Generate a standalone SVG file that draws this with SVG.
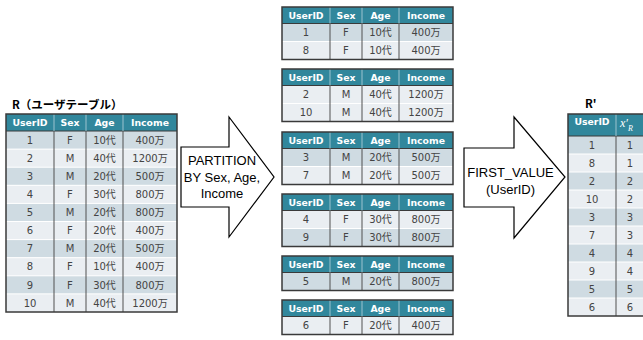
<svg xmlns="http://www.w3.org/2000/svg" width="643" height="340" viewBox="0 0 643 340">
  <style>
    .hd { fill: #31879C; }
    .r1 { fill: #CFDBE2; }
    .r2 { fill: #EAEEF2; }
    .ob { fill: none; stroke: #3A3A3A; stroke-width: 1.5; }
    .vl { stroke: #505050; stroke-width: 1; }
    .hv { stroke: #9CC3CF; stroke-width: 1; }
    .hl { stroke: #FFFFFF; stroke-width: 1; }
    .hb { stroke: #3A3A3A; stroke-width: 1; }
    .ht { font-family: "DejaVu Sans", "Noto Sans CJK JP", sans-serif; font-weight: bold; font-size: 9.3px; fill: #FFFFFF; text-anchor: middle; }
    .bt { font-family: "DejaVu Sans", "Noto Sans CJK JP", sans-serif; font-size: 10px; fill: #444444; text-anchor: middle; }
    .ttl { font-family: "Noto Sans CJK JP", sans-serif; font-weight: bold; font-size: 11.5px; fill: #000000; }
    .arw { fill: #FFFFFF; stroke: #000000; stroke-width: 1.2; stroke-linejoin: miter; }
    .at { font-family: "Liberation Sans", Arial, sans-serif; font-size: 13px; fill: #000000; text-anchor: middle; }
  </style>

  <!-- Source table R -->
  <g id="table-r">
    <text class="ttl" x="12" y="109">R（ユーザテーブル）</text>
    <g transform="translate(6,114)">
      <rect class="hd" x="0" y="0" width="171" height="17"/>
      <rect class="r1" x="0" y="17" width="171" height="18.1"/>
      <rect class="r2" x="0" y="35.1" width="171" height="18.1"/>
      <rect class="r1" x="0" y="53.2" width="171" height="18.1"/>
      <rect class="r2" x="0" y="71.3" width="171" height="18.1"/>
      <rect class="r1" x="0" y="89.4" width="171" height="18.1"/>
      <rect class="r2" x="0" y="107.5" width="171" height="18.1"/>
      <rect class="r1" x="0" y="125.6" width="171" height="18.1"/>
      <rect class="r2" x="0" y="143.7" width="171" height="18.1"/>
      <rect class="r1" x="0" y="161.8" width="171" height="18.1"/>
      <rect class="r2" x="0" y="179.9" width="171" height="18.1"/>
      <path class="hl" d="M0,35.1H171M0,53.2H171M0,71.3H171M0,89.4H171M0,107.5H171M0,125.6H171M0,143.7H171M0,161.8H171M0,179.9H171"/>
      <path class="hb" d="M0,17H171"/>
      <path class="hv" d="M48,0V17M80,0V17M117,0V17"/>
      <path class="vl" d="M48,17V198M80,17V198M117,17V198"/>
      <rect class="ob" x="0" y="0" width="171" height="198"/>
      <text class="ht" x="24" y="11.8">UserID</text>
      <text class="ht" x="64" y="11.8">Sex</text>
      <text class="ht" x="98.5" y="11.8">Age</text>
      <text class="ht" x="144" y="11.8">Income</text>
      <g class="bt">
        <text x="24" y="29.7">1</text><text x="64" y="29.7">F</text><text x="98.5" y="29.7">10代</text><text x="144" y="29.7">400万</text>
        <text x="24" y="47.8">2</text><text x="64" y="47.8">M</text><text x="98.5" y="47.8">40代</text><text x="144" y="47.8">1200万</text>
        <text x="24" y="65.9">3</text><text x="64" y="65.9">M</text><text x="98.5" y="65.9">20代</text><text x="144" y="65.9">500万</text>
        <text x="24" y="84">4</text><text x="64" y="84">F</text><text x="98.5" y="84">30代</text><text x="144" y="84">800万</text>
        <text x="24" y="102.1">5</text><text x="64" y="102.1">M</text><text x="98.5" y="102.1">20代</text><text x="144" y="102.1">800万</text>
        <text x="24" y="120.2">6</text><text x="64" y="120.2">F</text><text x="98.5" y="120.2">20代</text><text x="144" y="120.2">400万</text>
        <text x="24" y="138.3">7</text><text x="64" y="138.3">M</text><text x="98.5" y="138.3">20代</text><text x="144" y="138.3">500万</text>
        <text x="24" y="156.4">8</text><text x="64" y="156.4">F</text><text x="98.5" y="156.4">10代</text><text x="144" y="156.4">400万</text>
        <text x="24" y="174.5">9</text><text x="64" y="174.5">F</text><text x="98.5" y="174.5">30代</text><text x="144" y="174.5">800万</text>
        <text x="24" y="192.6">10</text><text x="64" y="192.6">M</text><text x="98.5" y="192.6">40代</text><text x="144" y="192.6">1200万</text>
      </g>
    </g>
  </g>

  <!-- Partitions -->
  <g id="partition-1" transform="translate(282,7)">
    <rect class="hd" x="0" y="0" width="171" height="16.5"/>
    <rect class="r1" x="0" y="16.5" width="171" height="18"/>
    <rect class="r2" x="0" y="34.5" width="171" height="18"/>
    <path class="hl" d="M0,34.5H171"/>
    <path class="hb" d="M0,16.5H171"/>
    <path class="hv" d="M48,0V16.5M80,0V16.5M117,0V16.5"/>
    <path class="vl" d="M48,16.5V52.5M80,16.5V52.5M117,16.5V52.5"/>
    <rect class="ob" x="0" y="0" width="171" height="52.5"/>
    <text class="ht" x="24" y="11.7">UserID</text><text class="ht" x="64" y="11.7">Sex</text><text class="ht" x="98.5" y="11.7">Age</text><text class="ht" x="144" y="11.7">Income</text>
    <g class="bt">
      <text x="24" y="29.2">1</text><text x="64" y="29.2">F</text><text x="98.5" y="29.2">10代</text><text x="144" y="29.2">400万</text>
      <text x="24" y="47.2">8</text><text x="64" y="47.2">F</text><text x="98.5" y="47.2">10代</text><text x="144" y="47.2">400万</text>
    </g>
  </g>

  <g id="partition-2" transform="translate(282,69)">
    <rect class="hd" x="0" y="0" width="171" height="16.5"/>
    <rect class="r2" x="0" y="16.5" width="171" height="18"/>
    <rect class="r2" x="0" y="34.5" width="171" height="18"/>
    <path class="hl" d="M0,34.5H171"/>
    <path class="hb" d="M0,16.5H171"/>
    <path class="hv" d="M48,0V16.5M80,0V16.5M117,0V16.5"/>
    <path class="vl" d="M48,16.5V52.5M80,16.5V52.5M117,16.5V52.5"/>
    <rect class="ob" x="0" y="0" width="171" height="52.5"/>
    <text class="ht" x="24" y="11.7">UserID</text><text class="ht" x="64" y="11.7">Sex</text><text class="ht" x="98.5" y="11.7">Age</text><text class="ht" x="144" y="11.7">Income</text>
    <g class="bt">
      <text x="24" y="29.2">2</text><text x="64" y="29.2">M</text><text x="98.5" y="29.2">40代</text><text x="144" y="29.2">1200万</text>
      <text x="24" y="47.2">10</text><text x="64" y="47.2">M</text><text x="98.5" y="47.2">40代</text><text x="144" y="47.2">1200万</text>
    </g>
  </g>

  <g id="partition-3" transform="translate(282,132)">
    <rect class="hd" x="0" y="0" width="171" height="16.5"/>
    <rect class="r1" x="0" y="16.5" width="171" height="18"/>
    <rect class="r2" x="0" y="34.5" width="171" height="18"/>
    <path class="hl" d="M0,34.5H171"/>
    <path class="hb" d="M0,16.5H171"/>
    <path class="hv" d="M48,0V16.5M80,0V16.5M117,0V16.5"/>
    <path class="vl" d="M48,16.5V52.5M80,16.5V52.5M117,16.5V52.5"/>
    <rect class="ob" x="0" y="0" width="171" height="52.5"/>
    <text class="ht" x="24" y="11.7">UserID</text><text class="ht" x="64" y="11.7">Sex</text><text class="ht" x="98.5" y="11.7">Age</text><text class="ht" x="144" y="11.7">Income</text>
    <g class="bt">
      <text x="24" y="29.2">3</text><text x="64" y="29.2">M</text><text x="98.5" y="29.2">20代</text><text x="144" y="29.2">500万</text>
      <text x="24" y="47.2">7</text><text x="64" y="47.2">M</text><text x="98.5" y="47.2">20代</text><text x="144" y="47.2">500万</text>
    </g>
  </g>

  <g id="partition-4" transform="translate(282,194)">
    <rect class="hd" x="0" y="0" width="171" height="16.5"/>
    <rect class="r2" x="0" y="16.5" width="171" height="18"/>
    <rect class="r1" x="0" y="34.5" width="171" height="18"/>
    <path class="hl" d="M0,34.5H171"/>
    <path class="hb" d="M0,16.5H171"/>
    <path class="hv" d="M48,0V16.5M80,0V16.5M117,0V16.5"/>
    <path class="vl" d="M48,16.5V52.5M80,16.5V52.5M117,16.5V52.5"/>
    <rect class="ob" x="0" y="0" width="171" height="52.5"/>
    <text class="ht" x="24" y="11.7">UserID</text><text class="ht" x="64" y="11.7">Sex</text><text class="ht" x="98.5" y="11.7">Age</text><text class="ht" x="144" y="11.7">Income</text>
    <g class="bt">
      <text x="24" y="29.2">4</text><text x="64" y="29.2">F</text><text x="98.5" y="29.2">30代</text><text x="144" y="29.2">800万</text>
      <text x="24" y="47.2">9</text><text x="64" y="47.2">F</text><text x="98.5" y="47.2">30代</text><text x="144" y="47.2">800万</text>
    </g>
  </g>

  <g id="partition-5" transform="translate(282,256)">
    <rect class="hd" x="0" y="0" width="171" height="16.5"/>
    <rect class="r1" x="0" y="16.5" width="171" height="18"/>
    <path class="hb" d="M0,16.5H171"/>
    <path class="hv" d="M48,0V16.5M80,0V16.5M117,0V16.5"/>
    <path class="vl" d="M48,16.5V34.5M80,16.5V34.5M117,16.5V34.5"/>
    <rect class="ob" x="0" y="0" width="171" height="34.5"/>
    <text class="ht" x="24" y="11.7">UserID</text><text class="ht" x="64" y="11.7">Sex</text><text class="ht" x="98.5" y="11.7">Age</text><text class="ht" x="144" y="11.7">Income</text>
    <g class="bt">
      <text x="24" y="29.2">5</text><text x="64" y="29.2">M</text><text x="98.5" y="29.2">20代</text><text x="144" y="29.2">800万</text>
    </g>
  </g>

  <g id="partition-6" transform="translate(282,300)">
    <rect class="hd" x="0" y="0" width="171" height="16.5"/>
    <rect class="r2" x="0" y="16.5" width="171" height="18"/>
    <path class="hb" d="M0,16.5H171"/>
    <path class="hv" d="M48,0V16.5M80,0V16.5M117,0V16.5"/>
    <path class="vl" d="M48,16.5V34.5M80,16.5V34.5M117,16.5V34.5"/>
    <rect class="ob" x="0" y="0" width="171" height="34.5"/>
    <text class="ht" x="24" y="11.7">UserID</text><text class="ht" x="64" y="11.7">Sex</text><text class="ht" x="98.5" y="11.7">Age</text><text class="ht" x="144" y="11.7">Income</text>
    <g class="bt">
      <text x="24" y="29.2">6</text><text x="64" y="29.2">F</text><text x="98.5" y="29.2">20代</text><text x="144" y="29.2">400万</text>
    </g>
  </g>

  <!-- Result table R' -->
  <g id="table-r-prime">
    <text class="ttl" x="585" y="108">R'</text>
    <g transform="translate(568,114)">
      <rect class="hd" x="0" y="0" width="82" height="22"/>
      <rect class="r1" x="0" y="22" width="82" height="18"/>
      <rect class="r2" x="0" y="40" width="82" height="18"/>
      <rect class="r1" x="0" y="58" width="82" height="18"/>
      <rect class="r2" x="0" y="76" width="82" height="18"/>
      <rect class="r1" x="0" y="94" width="82" height="18"/>
      <rect class="r2" x="0" y="112" width="82" height="18"/>
      <rect class="r1" x="0" y="130" width="82" height="18"/>
      <rect class="r2" x="0" y="148" width="82" height="18"/>
      <rect class="r1" x="0" y="166" width="82" height="18"/>
      <rect class="r2" x="0" y="184" width="82" height="18"/>
      <path class="hl" d="M0,40H82M0,58H82M0,76H82M0,94H82M0,112H82M0,130H82M0,148H82M0,166H82M0,184H82"/>
      <path class="hb" d="M0,22H82"/>
      <path class="hv" d="M48,0V22"/>
      <path class="vl" d="M48,22V202"/>
      <rect class="ob" x="0" y="0" width="82" height="202"/>
      <text class="ht" x="24" y="11">UserID</text>
      <text x="52" y="13" font-family="Liberation Serif, serif" font-style="italic" font-size="12" fill="#FFFFFF">x′<tspan font-size="8" dy="4">R</tspan></text>
      <g class="bt">
        <text x="24" y="34.7">1</text><text x="62" y="34.7">1</text>
        <text x="24" y="52.7">8</text><text x="62" y="52.7">1</text>
        <text x="24" y="70.7">2</text><text x="62" y="70.7">2</text>
        <text x="24" y="88.7">10</text><text x="62" y="88.7">2</text>
        <text x="24" y="106.7">3</text><text x="62" y="106.7">3</text>
        <text x="24" y="124.7">7</text><text x="62" y="124.7">3</text>
        <text x="24" y="142.7">4</text><text x="62" y="142.7">4</text>
        <text x="24" y="160.7">9</text><text x="62" y="160.7">4</text>
        <text x="24" y="178.7">5</text><text x="62" y="178.7">5</text>
        <text x="24" y="196.7">6</text><text x="62" y="196.7">6</text>
      </g>
    </g>
  </g>

  <!-- Operation arrows -->
  <g id="connectors">
    <g id="arrow-partition">
      <path class="arw" d="M181,147H229V117L274,177L229,237V207H181Z"/>
      <text class="at" x="222" y="165">PARTITION</text>
      <text class="at" x="222" y="181.5">BY Sex, Age,</text>
      <text class="at" x="222" y="198">Income</text>
    </g>
    <g id="arrow-first-value">
      <path class="arw" d="M464,148H514V117L565,177L514,238V207H464Z"/>
      <text class="at" x="510.5" y="177">FIRST_VALUE</text>
      <text class="at" x="510.5" y="194">(UserID)</text>
    </g>
  </g>
</svg>
